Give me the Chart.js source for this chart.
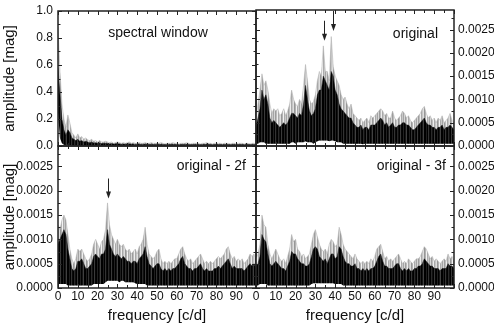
<!DOCTYPE html>
<html><head><meta charset="utf-8">
<script src="https://cdn.jsdelivr.net/npm/chart.js@4.4.1/dist/chart.umd.min.js"></script>
<style>
html,body{margin:0;padding:0;background:#fff;}
#wrap{position:relative;width:494px;height:327px;overflow:hidden;background:#fff;}
canvas{position:absolute;left:0;top:0;}
</style></head><body>
<div id="wrap">
<canvas id="c1" width="494" height="327"></canvas>
<canvas id="c2" width="494" height="327"></canvas>
<canvas id="c3" width="494" height="327"></canvas>
<canvas id="c4" width="494" height="327"></canvas>
</div>
<script>
// frequency grid [c/d]
const FREQ = [0,1,2,3,4,5,6,7,8,9,10,11,12,13,14,15,16,17,18,19,20,21,22,23,24,25,26,27,28,29,30,31,32,33,34,35,36,37,38,39,40,41,42,43,44,45,46,47,48,49,50,51,52,53,54,55,56,57,58,59,60,61,62,63,64,65,66,67,68,69,70,71,72,73,74,75,76,77,78,79,80,81,82,83,84,85,86,87,88,89,90,91,92,93,94,95,96,97,98,99,100];

// spectral window (relative amplitude)
const WIN_GRAY = [0.88,0.55,0.31,0.20,0.14,0.23,0.17,0.10,0.08,0.06, 0.09,0.06,0.07,0.05,0.06,0.045,0.04,0.05,0.035,0.04, 0.03,0.04,0.03,0.03,0.035,0.03,0.025,0.03,0.02,0.025, 0.03,0.025,0.02,0.025,0.02,0.025,0.03,0.02,0.025,0.02, 0.02,0.025,0.02,0.02,0.025,0.02,0.02,0.025,0.02,0.02, 0.02,0.02,0.025,0.02,0.015,0.02,0.02,0.02,0.025,0.02, 0.02,0.015,0.02,0.02,0.02,0.025,0.02,0.015,0.02,0.02, 0.02,0.02,0.015,0.02,0.02,0.025,0.02,0.02,0.015,0.02, 0.02,0.02,0.02,0.015,0.02,0.02,0.02,0.015,0.02,0.02, 0.015,0.02,0.02,0.02,0.015,0.02,0.02,0.015,0.02,0.02, 0.015];
const WIN_BLACK = [0.58,0.38,0.20,0.12,0.08,0.12,0.10,0.06,0.05,0.04, 0.05,0.035,0.04,0.03,0.035,0.03,0.025,0.03,0.022,0.025, 0.02,0.022,0.018,0.02,0.02,0.018,0.015,0.018,0.014,0.016, 0.018,0.015,0.013,0.015,0.013,0.015,0.016,0.013,0.015,0.012, 0.012,0.014,0.012,0.012,0.014,0.012,0.011,0.013,0.011,0.012, 0.012,0.011,0.013,0.011,0.01,0.012,0.011,0.011,0.013,0.011, 0.011,0.01,0.011,0.011,0.012,0.013,0.011,0.01,0.011,0.011, 0.011,0.011,0.01,0.011,0.011,0.013,0.011,0.011,0.01,0.011, 0.011,0.011,0.011,0.01,0.011,0.011,0.011,0.01,0.011,0.011, 0.01,0.011,0.011,0.011,0.01,0.011,0.011,0.01,0.011,0.011, 0.01];
const WIN_LOW = [0.25,0.06,0.02,0.01,0.005,0.01,0.005,0.003,0.002,0.002, 0.002,0.002,0.002,0.002,0.002,0.002,0.002,0.002,0.002,0.002, 0.002,0.002,0.002,0.002,0.002,0.002,0.002,0.002,0.002,0.002, 0.002,0.002,0.002,0.002,0.002,0.002,0.002,0.002,0.002,0.002, 0.002,0.002,0.002,0.002,0.002,0.002,0.002,0.002,0.002,0.002, 0.002,0.002,0.002,0.002,0.002,0.002,0.002,0.002,0.002,0.002, 0.002,0.002,0.002,0.002,0.002,0.002,0.002,0.002,0.002,0.002, 0.002,0.002,0.002,0.002,0.002,0.002,0.002,0.002,0.002,0.002, 0.002,0.002,0.002,0.002,0.002,0.002,0.002,0.002,0.002,0.002, 0.002,0.002,0.002,0.002,0.002,0.002,0.002,0.002,0.002,0.002, 0.002];

// original data [mag]
const ORIG_GRAY = [6e-4,9e-4,12e-4,15.5e-4,13e-4,14e-4,12e-4,9e-4,7e-4,8e-4, 7.5e-4,8e-4,6.5e-4,7e-4,8e-4,6.5e-4,7.5e-4,9e-4,12e-4,10e-4, 9e-4,8.5e-4,10e-4,9e-4,13e-4,17.5e-4,14e-4,10e-4,9e-4,9.5e-4, 11e-4,14e-4,16e-4,15e-4,21.5e-4,16e-4,16e-4,14e-4,23.5e-4,17e-4, 15e-4,14e-4,13e-4,11e-4,10e-4,10.5e-4,9e-4,8e-4,9e-4,7e-4, 6.5e-4,6e-4,5.5e-4,6e-4,5e-4,5.5e-4,6e-4,5e-4,6.5e-4,6e-4, 6.5e-4,7e-4,7.5e-4,8e-4,7.5e-4,6.5e-4,7e-4,6e-4,6e-4,7.5e-4, 6e-4,5.5e-4,6e-4,6.5e-4,7.5e-4,7e-4,6e-4,6.5e-4,5.5e-4,5e-4, 5.5e-4,6e-4,6.5e-4,7e-4,8e-4,8.5e-4,7e-4,6e-4,6.5e-4,5.5e-4, 6e-4,5e-4,6e-4,5.5e-4,6.5e-4,5e-4,5.5e-4,6e-4,7e-4,5.5e-4, 5e-4];
const ORIG_BLACK = [4e-4,6e-4,8e-4,12e-4,10e-4,11e-4,9e-4,6e-4,5e-4,5.5e-4, 5e-4,4.5e-4,4e-4,4.5e-4,5e-4,4.5e-4,5e-4,6e-4,7e-4,7e-4, 6.5e-4,6e-4,7e-4,6.5e-4,9e-4,13e-4,10e-4,7.5e-4,6.5e-4,7e-4, 8e-4,11e-4,12e-4,12e-4,15e-4,14e-4,13e-4,12e-4,16e-4,15e-4, 12e-4,11e-4,9e-4,8e-4,7.5e-4,7e-4,6.5e-4,6e-4,6e-4,5e-4, 4.5e-4,4e-4,4e-4,4.5e-4,3.5e-4,4e-4,4e-4,3.5e-4,4.5e-4,4.5e-4, 4.5e-4,5e-4,5.5e-4,6e-4,5.5e-4,4.5e-4,5e-4,4e-4,4.5e-4,5e-4, 4e-4,4e-4,4.5e-4,4.5e-4,5e-4,5e-4,4.5e-4,4.5e-4,4e-4,3.5e-4, 3.5e-4,4e-4,4.5e-4,5e-4,5.5e-4,6e-4,5e-4,4.5e-4,4.5e-4,4e-4, 4e-4,3.5e-4,4e-4,4e-4,4.5e-4,3.5e-4,4e-4,4e-4,4.5e-4,4e-4, 3.5e-4];
const ORIG_LOW = [0.5e-4,0.5e-4,0.8e-4,0.8e-4,0.8e-4,0.5e-4,0.5e-4,0.5e-4,0.5e-4,0.5e-4, 0.5e-4,0.5e-4,0.5e-4,0.5e-4,0.5e-4,0.5e-4,0.5e-4,0.5e-4,0.8e-4,0.8e-4, 0.5e-4,0.8e-4,0.8e-4,0.8e-4,0.8e-4,1e-4,0.8e-4,0.8e-4,0.8e-4,0.5e-4, 0.8e-4,1e-4,1.2e-4,1.2e-4,1.2e-4,1.2e-4,1.2e-4,1e-4,1.2e-4,1.2e-4, 1e-4,0.8e-4,0.8e-4,0.8e-4,0.5e-4,0.5e-4,0.5e-4,0.5e-4,0.5e-4,0.5e-4, 0.5e-4,0.5e-4,0.5e-4,0.5e-4,0.4e-4,0.5e-4,0.5e-4,0.5e-4,0.5e-4,0.5e-4, 0.5e-4,0.5e-4,0.5e-4,0.5e-4,0.5e-4,0.5e-4,0.5e-4,0.5e-4,0.5e-4,0.5e-4, 0.5e-4,0.5e-4,0.5e-4,0.5e-4,0.5e-4,0.5e-4,0.5e-4,0.5e-4,0.5e-4,0.5e-4, 0.5e-4,0.5e-4,0.5e-4,0.5e-4,0.5e-4,0.5e-4,0.5e-4,0.5e-4,0.5e-4,0.5e-4, 0.5e-4,0.5e-4,0.5e-4,0.5e-4,0.5e-4,0.5e-4,0.5e-4,0.5e-4,0.5e-4,0.5e-4, 0.5e-4];

// original - 2f [mag]
const R2F_GRAY = [13e-4,12e-4,14e-4,15e-4,14e-4,11e-4,8e-4,6e-4,5e-4,6e-4, 8e-4,7.5e-4,8e-4,7e-4,6e-4,5.5e-4,6e-4,7e-4,9e-4,10e-4, 9e-4,8e-4,9.5e-4,10e-4,12e-4,17.5e-4,13e-4,11e-4,10e-4,9e-4, 10e-4,9e-4,8.5e-4,9e-4,8e-4,7.5e-4,8e-4,7e-4,7.5e-4,8e-4, 7e-4,8.5e-4,9e-4,10e-4,12.5e-4,9e-4,7e-4,6.5e-4,6e-4,6.5e-4, 7.5e-4,8e-4,6e-4,5e-4,5.5e-4,5e-4,5.5e-4,5e-4,5.5e-4,6e-4, 6e-4,7e-4,8e-4,8.5e-4,7e-4,6e-4,5.5e-4,6e-4,5e-4,5.5e-4, 6e-4,6.5e-4,7e-4,6e-4,5e-4,5.5e-4,5e-4,5.5e-4,5e-4,5.5e-4, 6e-4,6.5e-4,6e-4,6.5e-4,7e-4,8e-4,8.5e-4,7e-4,6e-4,6.5e-4, 5.5e-4,6e-4,5.5e-4,6e-4,5e-4,5.5e-4,6e-4,7e-4,6.5e-4,7e-4, 6e-4];
const R2F_BLACK = [9e-4,10e-4,11e-4,12e-4,11e-4,8e-4,6e-4,4e-4,3.5e-4,4e-4, 5.5e-4,5.5e-4,6e-4,5e-4,4e-4,4e-4,4.5e-4,5e-4,6.5e-4,7e-4, 6.5e-4,6e-4,7e-4,7e-4,8e-4,12e-4,9e-4,8e-4,7e-4,6.5e-4, 7e-4,6.5e-4,6e-4,6.5e-4,6e-4,5.5e-4,5.5e-4,5e-4,5.5e-4,5.5e-4, 5e-4,6e-4,6.5e-4,7e-4,8.5e-4,6.5e-4,5e-4,4.5e-4,4e-4,4.5e-4, 5e-4,5e-4,4e-4,3.5e-4,4e-4,3.5e-4,4e-4,3.5e-4,4e-4,4e-4, 4.5e-4,5e-4,6e-4,6.5e-4,5e-4,4.5e-4,4e-4,4e-4,3.5e-4,4e-4, 4e-4,4.5e-4,5e-4,4e-4,3.5e-4,4e-4,3.5e-4,3.5e-4,3.5e-4,4e-4, 4e-4,4.5e-4,4e-4,4.5e-4,5e-4,5.5e-4,6e-4,5e-4,4e-4,4.5e-4, 4e-4,4e-4,4e-4,4e-4,3.5e-4,4e-4,4.5e-4,5e-4,4.5e-4,5e-4, 4e-4];
const R2F_LOW = [0.8e-4,0.8e-4,0.8e-4,0.8e-4,0.8e-4,0.5e-4,0.5e-4,0.5e-4,0.5e-4,0.5e-4, 0.5e-4,0.5e-4,0.5e-4,0.5e-4,0.5e-4,0.5e-4,0.5e-4,0.5e-4,0.8e-4,0.8e-4, 0.8e-4,0.8e-4,0.8e-4,0.8e-4,1.2e-4,1.5e-4,1.5e-4,1.5e-4,1.5e-4,1.5e-4, 1.5e-4,1.2e-4,1.5e-4,1.5e-4,1.2e-4,1.2e-4,1.2e-4,1.2e-4,1.2e-4,1e-4, 0.8e-4,0.8e-4,0.8e-4,0.8e-4,0.8e-4,0.5e-4,0.5e-4,0.5e-4,0.5e-4,0.5e-4, 0.5e-4,0.5e-4,0.5e-4,0.5e-4,0.5e-4,0.5e-4,0.5e-4,0.5e-4,0.5e-4,0.5e-4, 0.5e-4,0.5e-4,0.5e-4,0.5e-4,0.5e-4,0.5e-4,0.5e-4,0.5e-4,0.5e-4,0.5e-4, 0.5e-4,0.5e-4,0.5e-4,0.5e-4,0.5e-4,0.5e-4,0.5e-4,0.5e-4,0.5e-4,0.5e-4, 0.5e-4,0.5e-4,0.5e-4,0.5e-4,0.5e-4,0.5e-4,0.5e-4,0.5e-4,0.5e-4,0.5e-4, 0.5e-4,0.5e-4,0.5e-4,0.5e-4,0.5e-4,0.5e-4,0.5e-4,0.5e-4,0.5e-4,0.5e-4, 0.5e-4];

// original - 3f [mag]
const R3F_GRAY = [6e-4,7e-4,9e-4,15e-4,13e-4,12.5e-4,9e-4,7e-4,6e-4,7e-4, 8e-4,7e-4,6e-4,5.5e-4,6e-4,5e-4,6.5e-4,8e-4,11e-4,9.5e-4, 10e-4,8e-4,7.5e-4,6.5e-4,7e-4,6e-4,6.5e-4,7e-4,9e-4,11e-4, 12e-4,10.5e-4,9e-4,8e-4,7.5e-4,8e-4,7e-4,9e-4,10e-4,9.5e-4, 8.5e-4,9e-4,12.5e-4,11e-4,9e-4,8e-4,7.5e-4,7e-4,6.5e-4,6e-4, 7e-4,6e-4,5.5e-4,5e-4,5.5e-4,5e-4,5.5e-4,5e-4,6e-4,5.5e-4, 6.5e-4,8e-4,8.5e-4,9e-4,7.5e-4,6e-4,6.5e-4,5.5e-4,6e-4,5.5e-4, 6e-4,6.5e-4,7e-4,6e-4,5e-4,5.5e-4,5e-4,6e-4,5.5e-4,5e-4, 5.5e-4,6e-4,6e-4,6.5e-4,7.5e-4,8.5e-4,8e-4,7e-4,6e-4,6.5e-4, 5.5e-4,6e-4,5.5e-4,5e-4,5.5e-4,6e-4,5.5e-4,7e-4,6e-4,6.5e-4, 5.5e-4];
const R3F_BLACK = [4.5e-4,5e-4,6.5e-4,11e-4,10e-4,9.5e-4,7e-4,5e-4,4.5e-4,5e-4, 5.5e-4,5e-4,4.5e-4,4e-4,4e-4,3.5e-4,4.5e-4,5.5e-4,7.5e-4,7e-4, 7e-4,6e-4,5.5e-4,5e-4,5e-4,4.5e-4,4.5e-4,5e-4,6.5e-4,8e-4, 8.5e-4,8e-4,6.5e-4,6e-4,5.5e-4,6e-4,5e-4,6e-4,7e-4,7e-4, 6e-4,6.5e-4,8.5e-4,8e-4,6.5e-4,5.5e-4,5e-4,5e-4,4.5e-4,4.5e-4, 5e-4,4e-4,4e-4,3.5e-4,4e-4,3.5e-4,4e-4,3.5e-4,4e-4,4e-4, 4.5e-4,5.5e-4,6.5e-4,7e-4,5.5e-4,4.5e-4,4.5e-4,4e-4,4e-4,4e-4, 4.5e-4,5e-4,5e-4,4e-4,3.5e-4,4e-4,3.5e-4,4e-4,3.5e-4,3.5e-4, 4e-4,4e-4,4.5e-4,4.5e-4,5e-4,6e-4,5.5e-4,5e-4,4.5e-4,4.5e-4, 4e-4,4e-4,4e-4,3.5e-4,4e-4,4e-4,4e-4,5e-4,4.5e-4,4.5e-4, 4e-4];
const R3F_LOW = [0.5e-4,0.5e-4,0.8e-4,0.8e-4,0.8e-4,0.8e-4,0.5e-4,0.5e-4,0.5e-4,0.5e-4, 0.5e-4,0.5e-4,0.5e-4,0.5e-4,0.5e-4,0.5e-4,0.5e-4,0.5e-4,0.5e-4,0.5e-4, 0.5e-4,0.5e-4,0.5e-4,0.5e-4,0.5e-4,0.5e-4,0.5e-4,0.5e-4,0.8e-4,1e-4, 1e-4,1e-4,1e-4,1e-4,1e-4,1e-4,1e-4,1e-4,1e-4,1e-4, 0.8e-4,0.8e-4,0.8e-4,0.8e-4,0.5e-4,0.5e-4,0.5e-4,0.5e-4,0.5e-4,0.5e-4, 0.5e-4,0.5e-4,0.5e-4,0.5e-4,0.5e-4,0.5e-4,0.5e-4,0.5e-4,0.5e-4,0.5e-4, 0.5e-4,0.5e-4,0.5e-4,0.5e-4,0.5e-4,0.5e-4,0.5e-4,0.5e-4,0.5e-4,0.5e-4, 0.5e-4,0.5e-4,0.5e-4,0.5e-4,0.5e-4,0.5e-4,0.5e-4,0.5e-4,0.5e-4,0.5e-4, 0.5e-4,0.5e-4,0.5e-4,0.5e-4,0.5e-4,0.5e-4,0.5e-4,0.5e-4,0.5e-4,0.5e-4, 0.5e-4,0.5e-4,0.5e-4,0.5e-4,0.5e-4,0.5e-4,0.5e-4,0.5e-4,0.5e-4,0.5e-4, 0.5e-4];

// tick labels
const X_TICKS = [0,10,20,30,40,50,60,70,80,90];
const WIN_Y_TICKS = [0,0.2,0.4,0.6,0.8,1.0];
const AMP_Y_TICKS = [0,0.0005,0.0010,0.0015,0.0020,0.0025];
const PANEL_TITLES = ['spectral window','original','original - 2f','original - 3f'];
// arrows marking peaks: [frequency, amplitude at arrow tip]
const ORIG_ARROWS = [[34.5,0.00226],[38.9,0.00247]];
const R2F_ARROWS = [[25.0,0.00184]];

const FONT = "'Liberation Sans', Arial, sans-serif";
const INK = '#111';

// streaky fills imitating the dense periodogram strokes
function stripes(cols) {
  const c = document.createElement('canvas');
  c.width = cols.length; c.height = 1;
  const g = c.getContext('2d');
  cols.forEach((col, i) => { g.fillStyle = col; g.fillRect(i, 0, 1, 1); });
  return g.createPattern(c, 'repeat');
}
const BLACK_FILL = stripes(['#000','#1e1e1e','#000','#333','#0a0a0a','#000','#2a2a2a','#101010','#000','#3a3a3a','#050505','#000','#222','#000','#151515','#404040','#000']);
const GRAY_FILL = stripes(['#a4a4a4','#d6d6d6','#9c9c9c','#bdbdbd','#eeeeee','#a8a8a8','#c6c6c6','#dedede','#979797','#b2b2b2','#f2f2f2','#ababab','#cacaca']);

const panelPlugin = {
  id: 'panel',
  afterDatasetsDraw(chart, args, o) {
    const {ctx, chartArea: a, scales: {x, y}} = chart;
    ctx.save();
    (o.arrows || []).forEach(([f, v]) => {
      const px = Math.round(x.getPixelForValue(f)) + 0.5;
      const py = y.getPixelForValue(v);
      ctx.strokeStyle = '#222'; ctx.lineWidth = 1;
      ctx.beginPath(); ctx.moveTo(px, py - 20); ctx.lineTo(px, py - 5); ctx.stroke();
      ctx.fillStyle = '#222';
      ctx.beginPath(); ctx.moveTo(px - 2.5, py - 7); ctx.lineTo(px + 2.5, py - 7); ctx.lineTo(px, py); ctx.closePath(); ctx.fill();
    });
    ctx.strokeStyle = '#222'; ctx.lineWidth = 1.5;
    ctx.strokeRect(a.left, a.top, a.right - a.left, a.bottom - a.top);
    ctx.lineWidth = 1;
    ctx.beginPath();
    for (let v = 0; v <= x.max; v += 5) {
      const px = Math.round(x.getPixelForValue(v)) + 0.5;
      const len = v % 10 === 0 ? 4 : 3;
      ctx.moveTo(px, a.top); ctx.lineTo(px, a.top + len);
      ctx.moveTo(px, a.bottom); ctx.lineTo(px, a.bottom - len);
    }
    const st = o.yStep;
    for (let k = 0; k * st / 2 <= y.max + 1e-12; k++) {
      const py = Math.round(y.getPixelForValue(k * st / 2)) + 0.5;
      const len = k % 2 === 0 ? 4 : 2.5;
      ctx.moveTo(a.left, py); ctx.lineTo(a.left + len, py);
      ctx.moveTo(a.right, py); ctx.lineTo(a.right - len, py);
    }
    ctx.stroke();
    ctx.fillStyle = INK;
    ctx.font = '14px ' + FONT;
    ctx.textBaseline = 'middle';
    ctx.textAlign = o.align;
    const tx = o.align === 'center' ? a.left + o.dx : a.right - o.dx;
    ctx.fillText(o.title, tx, a.top + o.dy);
    ctx.restore();
  }
};

function series(vals) { return FREQ.map((f, i) => ({x: f, y: vals[i]})); }

function makePanel(id, p) {
  const left = p.side === 'left';
  new Chart(document.getElementById(id), {
    type: 'line',
    data: { datasets: [
      { data: series(p.black), borderColor: '#111', backgroundColor: BLACK_FILL, borderWidth: 0.5, fill: 2, pointRadius: 0 },
      { data: series(p.gray), borderColor: '#aaaaaa', backgroundColor: GRAY_FILL, borderWidth: 0.5, fill: 2, pointRadius: 0 },
      { data: series(p.low), borderColor: 'rgba(0,0,0,0)', borderWidth: 0, fill: false, pointRadius: 0 }
    ]},
    options: {
      responsive: false, animation: false, devicePixelRatio: 1,
      layout: { padding: { left: left ? 0 : 256, right: left ? 238 : 0, top: p.top, bottom: p.bottomPad } },
      plugins: {
        legend: { display: false }, tooltip: { enabled: false },
        panel: { arrows: p.arrows, yStep: p.yStep, title: p.title, align: p.align, dx: p.dx, dy: p.dy }
      },
      scales: {
        x: {
          type: 'linear', min: 0, max: 100, position: 'bottom',
          grid: { display: false, drawTicks: false }, border: { display: false },
          afterBuildTicks: s => { s.ticks = X_TICKS.map(v => ({value: v})); },
          afterFit: s => { s.height = p.xHeight; },
          ticks: { display: p.showX, padding: 3, color: INK, font: { family: FONT, size: 12, lineHeight: 1 } },
          title: { display: p.showX, text: 'frequency [c/d]', color: INK, font: { family: FONT, size: 15, lineHeight: 1.2 }, padding: { top: 0, bottom: 2 } }
        },
        y: {
          type: 'linear', min: 0, max: p.ymax, position: p.side,
          grid: { display: false, drawTicks: false }, border: { display: false },
          afterBuildTicks: s => { s.ticks = p.yTicks.map(v => ({value: v})); },
          afterFit: s => { s.width = left ? 58 : 40; },
          ticks: { padding: left ? 5 : 4, color: INK, font: { family: FONT, size: 12, lineHeight: 1 },
                   callback: v => v.toFixed(p.dec) },
          title: { display: left, text: 'amplitude [mag]', color: INK, font: { family: FONT, size: 15, lineHeight: 1.2 }, padding: { top: 1, bottom: 0 } }
        }
      }
    },
    plugins: [panelPlugin]
  });
}

makePanel('c1', { side: 'left', top: 6, bottomPad: 180, xHeight: 1, showX: false, ymax: 1.0, yTicks: WIN_Y_TICKS, dec: 1, yStep: 0.2,
  gray: WIN_GRAY, black: WIN_BLACK, low: WIN_LOW, arrows: [], title: PANEL_TITLES[0], align: 'center', dx: 100, dy: 22 });
makePanel('c2', { side: 'right', top: 6, bottomPad: 180, xHeight: 1, showX: false, ymax: 0.00292, yTicks: AMP_Y_TICKS, dec: 4, yStep: 0.0005,
  gray: ORIG_GRAY, black: ORIG_BLACK, low: ORIG_LOW, arrows: ORIG_ARROWS, title: PANEL_TITLES[1], align: 'right', dx: 16, dy: 24 });
makePanel('c3', { side: 'left', top: 146, bottomPad: 0, xHeight: 39, showX: true, ymax: 0.00292, yTicks: AMP_Y_TICKS, dec: 4, yStep: 0.0005,
  gray: R2F_GRAY, black: R2F_BLACK, low: R2F_LOW, arrows: R2F_ARROWS, title: PANEL_TITLES[2], align: 'right', dx: 10, dy: 20 });
makePanel('c4', { side: 'right', top: 146, bottomPad: 0, xHeight: 39, showX: true, ymax: 0.00292, yTicks: AMP_Y_TICKS, dec: 4, yStep: 0.0005,
  gray: R3F_GRAY, black: R3F_BLACK, low: R3F_LOW, arrows: [], title: PANEL_TITLES[3], align: 'right', dx: 8, dy: 20 });
</script>
</body></html>
